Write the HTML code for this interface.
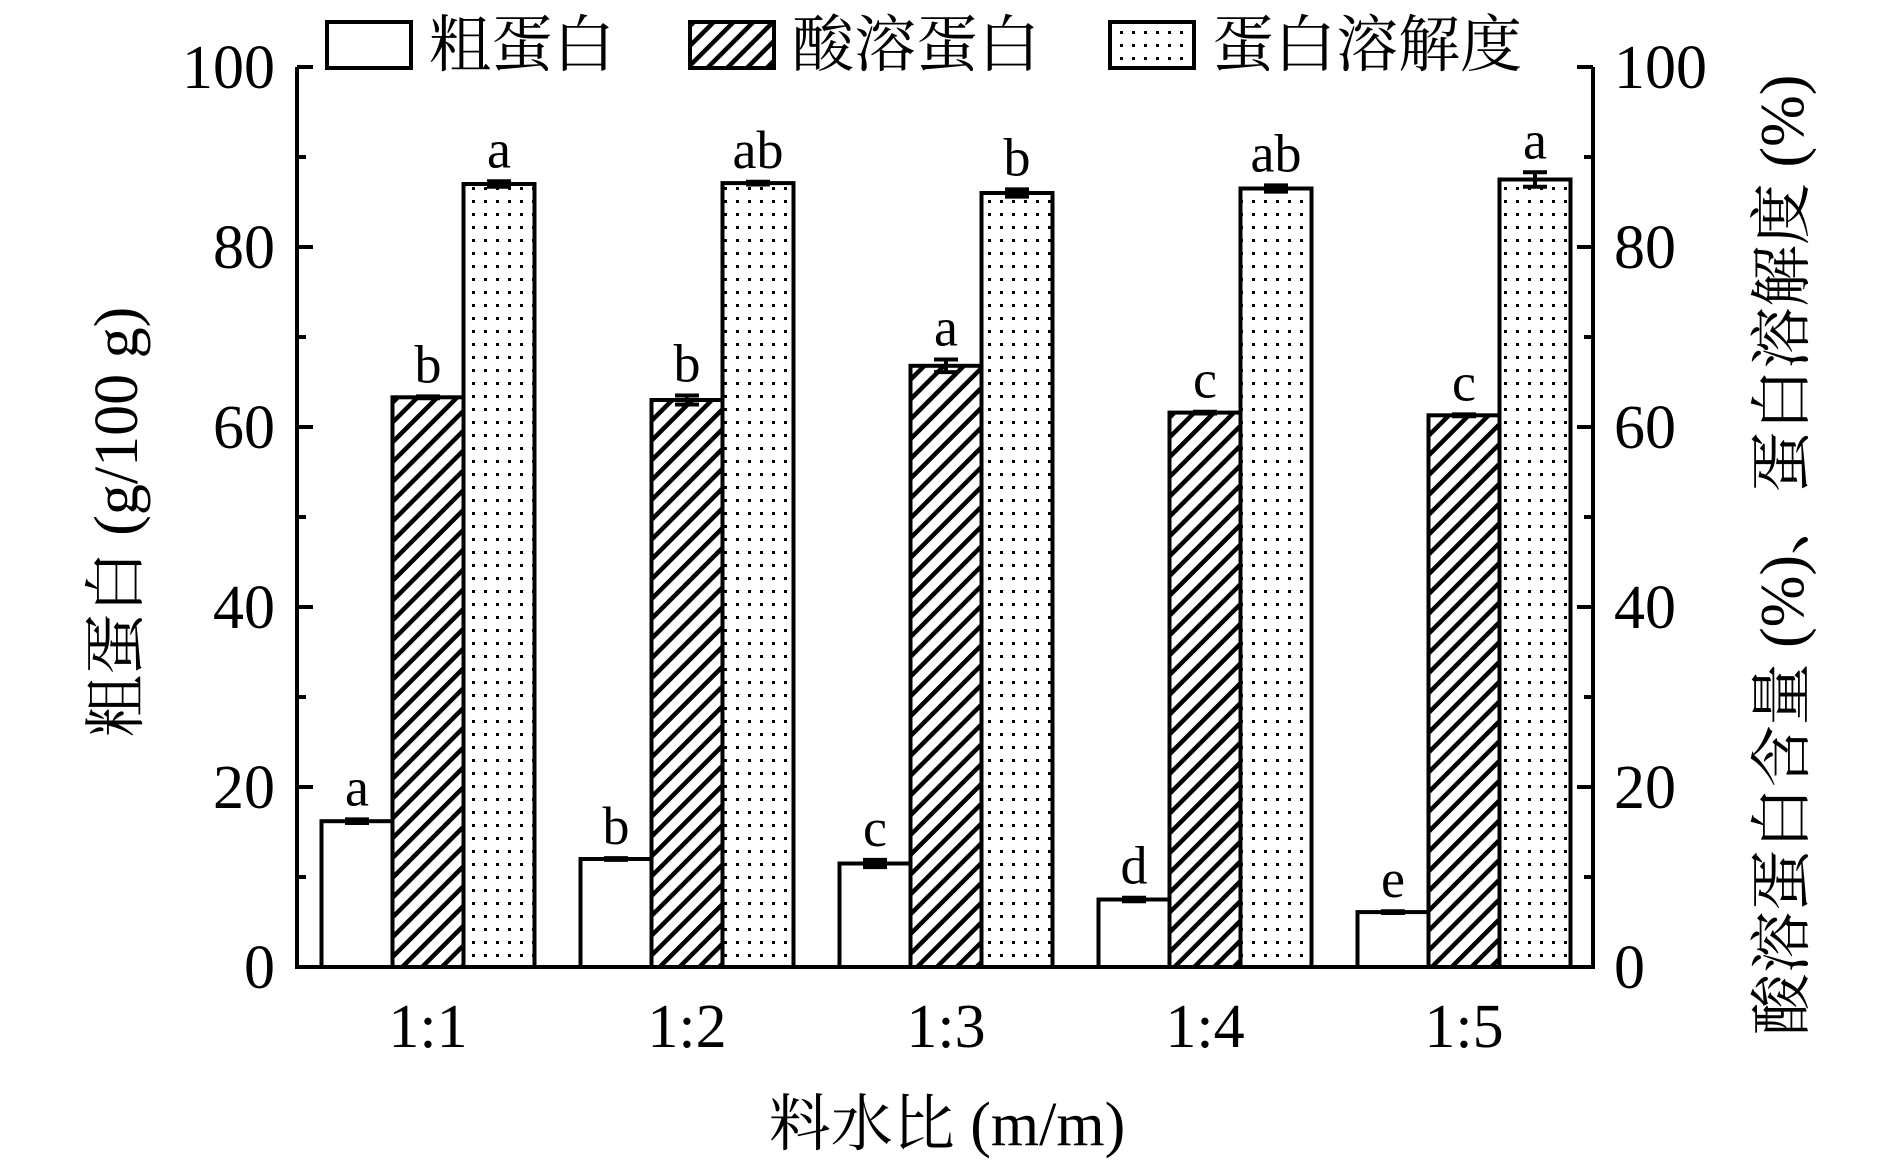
<!DOCTYPE html>
<html><head><meta charset="utf-8"><style>
html,body{margin:0;padding:0;background:#fff}
svg text{font-family:"Liberation Serif","Noto Serif CJK SC","Noto Serif CJK",serif;fill:#000}
</style></head><body>
<svg id="chart" width="1890" height="1160" viewBox="0 0 1890 1160" xmlns="http://www.w3.org/2000/svg">
<defs>
<pattern id="hatch" patternUnits="userSpaceOnUse" width="14" height="14" patternTransform="rotate(45)">
<rect width="14" height="14" fill="#fff"/><rect x="0" y="0" width="4.5" height="14" fill="#000"/>
</pattern>
<pattern id="dots" patternUnits="userSpaceOnUse" width="12" height="13">
<rect width="12" height="13" fill="#fff"/><rect x="4" y="5" width="3" height="3" fill="#000"/>
</pattern>
</defs>
<g id="plot"></g>
</svg>
<script>
const categories = ["1:1","1:2","1:3","1:4","1:5"];
const crudeProtein = [16.2, 12.0, 11.5, 7.5, 6.1];
const crudeErr = [0.2, 0.1, 0.4, 0.2, 0.1];
const crudeLetters = ["a","b","c","d","e"];
const acidProtein = [63.3, 63.0, 66.8, 61.6, 61.3];
const acidErr = [0.1, 0.5, 0.7, 0.1, 0.1];
const acidLetters = ["b","b","a","c","c"];
const solubility = [87.0, 87.1, 86.0, 86.5, 87.5];
const solErr = [0.3, 0.15, 0.4, 0.35, 0.8];
const solLetters = ["a","ab","b","ab","a"];
const yTicks = [0, 20, 40, 60, 80, 100];

const NS = "http://www.w3.org/2000/svg";
const g = document.getElementById("plot");
const X0 = 297, X1 = 1593, Y0 = 967, Y100 = 67;
const y = v => Y0 - (v / 100) * (Y0 - Y100);
const groupC = i => 428 + i * 259;
const BW = 71;
function mk(tag, attrs, parent) {
  const e = document.createElementNS(NS, tag);
  for (const k in attrs) e.setAttribute(k, attrs[k]);
  (parent || g).appendChild(e);
  return e;
}
const series = [
  {vals: crudeProtein, err: crudeErr, letters: crudeLetters, fill: "#fff", name: "crude-protein"},
  {vals: acidProtein, err: acidErr, letters: acidLetters, fill: "url(#hatch)", name: "acid-protein"},
  {vals: solubility, err: solErr, letters: solLetters, fill: "url(#dots)", name: "solubility"}
];
series.forEach((s, si) => {
  s.vals.forEach((v, i) => {
    const x = groupC(i) + (si - 1.5) * BW;
    const r = mk("rect", {x: x, y: y(v), width: BW, height: Y0 - y(v), fill: s.fill, stroke: "#000", "stroke-width": 4});
    
    
    const cx = x + BW / 2, top = y(v + s.err[i]), bot = y(v - s.err[i]);
    const eb = mk("path", {d: `M${cx-12},${top}H${cx+12}M${cx},${top}V${bot}M${cx-12},${bot}H${cx+12}`, stroke: "#000", "stroke-width": 4, fill: "none"});
    
    
    const t = mk("text", {x: cx, y: top - 14, "text-anchor": "middle", "font-size": 54});
    t.textContent = s.letters[i];
    
    
  });
});
const ax = mk("path", {d: `M${X0},${Y100}V${Y0}H${X1}V${Y100}`, stroke: "#000", "stroke-width": 4, fill: "none"});


for (let v = 0; v <= 100; v += 10) {
  const len = v % 20 === 0 ? 16 : 9;
  const tk = mk("path", {d: `M${X0},${y(v)}h${len}M${X1},${y(v)}h${-len}`, stroke: "#000", "stroke-width": 4});
  
  
}
yTicks.forEach(v => {
  const l = mk("text", {x: 275, y: y(v) + 21, "text-anchor": "end", "font-size": 62});
  l.textContent = v;
  
  
  const r = mk("text", {x: 1614, y: y(v) + 21, "text-anchor": "start", "font-size": 62});
  r.textContent = v;
  
  
});
categories.forEach((c, i) => {
  const l = mk("text", {x: groupC(i), y: 1047, "text-anchor": "middle", "font-size": 62});
  l.textContent = c;
  
  
});
let t = mk("text", {x: 947, y: 1145, "text-anchor": "middle", "font-size": 62});
t.textContent = "料水比 (m/m)";


t = mk("text", {x: 0, y: 0, "text-anchor": "middle", "font-size": 62, transform: "translate(137,522) rotate(-90)"});
t.textContent = "粗蛋白 (g/100 g)";


t = mk("text", {x: 0, y: 0, "text-anchor": "middle", "font-size": 62, transform: "translate(1803,555) rotate(-90)"});
t.textContent = "酸溶蛋白含量 (%)、蛋白溶解度 (%)";


const legend = [["粗蛋白","#fff",327],["酸溶蛋白","url(#hatch)",690],["蛋白溶解度","url(#dots)",1110]];
legend.forEach(([name, fill, x]) => {
  const b = mk("rect", {x: x, y: 22, width: 84, height: 46, fill: fill, stroke: "#000", "stroke-width": 4});
  
  
  const lt = mk("text", {x: x + 102, y: 66, "font-size": 62});
  lt.textContent = name;
  
  
});
</script>
</body></html>
